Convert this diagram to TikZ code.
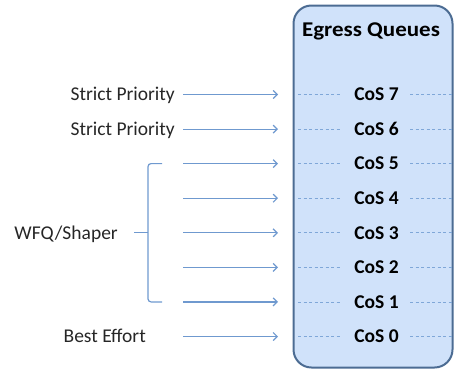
\documentclass[tikz,border=0pt]{standalone}
\usepackage{fontspec}
\setmainfont{Carlito}
\usepackage{xcolor}
\usetikzlibrary{arrows.meta}

\definecolor{qfill}{HTML}{D0E2FA}
\definecolor{qborder}{HTML}{4C6C93}
\definecolor{feedblue}{HTML}{6F99CF}
\definecolor{dashblue}{HTML}{7FA7D8}
\definecolor{labelgray}{HTML}{262626}

\begin{document}
\begin{tikzpicture}[x=1bp,y=-1bp,
    txt/.style={font=\fontsize{19.5bp}{23bp}\selectfont, text=labelgray, inner sep=0pt},
    cos/.style={font=\fontsize{19.5bp}{23bp}\selectfont\bfseries, inner sep=0pt, anchor=base},
    feed/.style={draw=feedblue, line width=1.2bp, -{Straight Barb[length=4bp,width=8bp]}},
    dashline/.style={draw=dashblue, line width=0.8bp, dash pattern=on 3bp off 2.5bp},
    bracket/.style={draw=feedblue, line width=1.2bp, rounded corners=3bp}]
  \useasboundingbox (0,0) rectangle (454,373);

  % queue box
  \node[draw=qborder, fill=qfill, line width=2bp, rounded corners=18bp,
        minimum width=159bp, minimum height=362bp, inner sep=0pt] (box) at (373,186.5) {};
  \node[cos, font=\fontsize{21bp}{25bp}\selectfont\bfseries] (title) at (371,36)
    {\scalebox{1.095}[1]{Egress Queues}};

  % queues
  \node[cos] (cos7) at (376.5,100.8) {CoS 7};
  \node[cos] (cos6) at (376.5,135.4) {CoS 6};
  \node[cos] (cos5) at (376.5,169.9) {CoS 5};
  \node[cos] (cos4) at (376.5,204.5) {CoS 4};
  \node[cos] (cos3) at (376.5,239.1) {CoS 3};
  \node[cos] (cos2) at (376.5,273.7) {CoS 2};
  \node[cos] (cos1) at (376.5,308.2) {CoS 1};
  \node[cos] (cos0) at (376.5,342.8) {CoS 0};

  % dashed marks
  \foreach \q in {0,...,7}{
    \draw[dashline] ([yshift=6.3bp]cos\q.base) ++(-78.5,0) -- ++(44,0);
    \draw[dashline] ([yshift=6.3bp]cos\q.base) ++(33.5,0) -- ++(42,0);
  }

  % schedulers
  \node[txt, anchor=base east] (sp7) at (175,100.8) {Strict Priority};
  \node[txt, anchor=base east] (sp6) at (175,135.4) {Strict Priority};
  \node[txt, anchor=base east] (wfq) at (118,239.1) {WFQ/Shaper};
  \node[txt, anchor=base east] (be) at (146,342.8) {Best Effort};

  % feeds
  \foreach \q/\y in {7/94.5,6/129.1,5/163.6,4/198.2,3/232.8,2/267.4,1/301.9,0/336.5}{
    \coordinate (s\q) at (183,\y);
    \coordinate (t\q) at (278,\y);
    \draw[feed] (s\q) -- (t\q);
  }

  % bracket
  \coordinate (btop) at (162,163.6);
  \coordinate (bbot) at (162,301.9);
  \coordinate (bmid) at (148,232.8);
  \draw[bracket] (btop) -- (148,163.6) -- (148,301.9) -- (bbot);
  \draw[bracket] ([xshift=16bp]wfq.east |- bmid) -- (bmid);
\end{tikzpicture}
\end{document}
